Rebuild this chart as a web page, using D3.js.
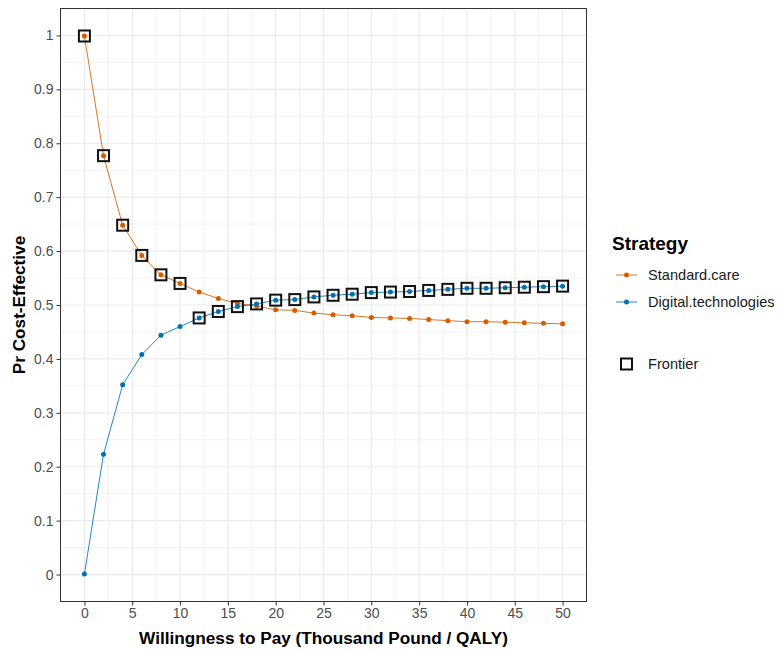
<!DOCTYPE html>
<html>
<head>
<meta charset="utf-8">
<script src="https://cdn.jsdelivr.net/npm/d3@7/dist/d3.min.js"></script>
<style>
  html, body { margin: 0; padding: 0; background: #fff; }
  svg { display: block; font-family: "Liberation Sans", Arial, sans-serif; }
</style>
</head>
<body>
<svg id="chart" width="777" height="650"></svg>
<script>
// Willingness-to-pay thresholds (thousand pounds per QALY)
const wtp = [0, 2, 4, 6, 8, 10, 12, 14, 16, 18, 20, 22, 24, 26, 28, 30, 32, 34, 36, 38, 40, 42, 44, 46, 48, 50];

// Probability each strategy is cost-effective
const standardCare = [0.999, 0.777, 0.648, 0.592, 0.556, 0.540, 0.524, 0.512, 0.503, 0.498, 0.491, 0.490, 0.485, 0.482, 0.480, 0.477, 0.476, 0.475, 0.473, 0.471, 0.469, 0.469, 0.468, 0.467, 0.466, 0.465];
const digitalTech  = [0.001, 0.223, 0.352, 0.408, 0.444, 0.460, 0.476, 0.488, 0.497, 0.502, 0.509, 0.510, 0.515, 0.518, 0.520, 0.523, 0.524, 0.525, 0.527, 0.529, 0.531, 0.531, 0.532, 0.533, 0.534, 0.535];

// Strategy on the cost-effectiveness acceptability frontier at each threshold
const frontier = ["Standard.care", "Standard.care", "Standard.care", "Standard.care", "Standard.care", "Standard.care",
  "Digital.technologies", "Digital.technologies", "Digital.technologies", "Digital.technologies", "Digital.technologies",
  "Digital.technologies", "Digital.technologies", "Digital.technologies", "Digital.technologies", "Digital.technologies",
  "Digital.technologies", "Digital.technologies", "Digital.technologies", "Digital.technologies", "Digital.technologies",
  "Digital.technologies", "Digital.technologies", "Digital.technologies", "Digital.technologies", "Digital.technologies"];

const strategyNames = ["Standard.care", "Digital.technologies"];
const strategyColors = ["#D55E00", "#0072B2"];

const xTicks = [0, 5, 10, 15, 20, 25, 30, 35, 40, 45, 50];
const yTicks = [0, 0.1, 0.2, 0.3, 0.4, 0.5, 0.6, 0.7, 0.8, 0.9, 1];

const series = [
  { name: strategyNames[0], color: strategyColors[0], values: standardCare },
  { name: strategyNames[1], color: strategyColors[1], values: digitalTech }
];

const svg = d3.select("#chart");
const panel = { left: 60.5, right: 586.5, top: 8.5, bottom: 601.5 };

const x = d3.scaleLinear().domain([-2.5, 52.5]).range([panel.left, panel.right]);
const y = d3.scaleLinear().domain([-0.05, 1.05]).range([panel.bottom, panel.top]);

// Grid: minor then major
const xMinor = d3.range(-2.5, 52.6, 5);
const yMinor = d3.range(-0.05, 1.06, 0.1).map(v => +v.toFixed(2));
const grid = svg.append("g");
grid.selectAll(".xm").data(xMinor).join("line")
  .attr("x1", d => x(d)).attr("x2", d => x(d)).attr("y1", panel.top).attr("y2", panel.bottom)
  .attr("stroke", "#F2F2F2").attr("stroke-width", 1);
grid.selectAll(".ym").data(yMinor).join("line")
  .attr("y1", d => y(d)).attr("y2", d => y(d)).attr("x1", panel.left).attr("x2", panel.right)
  .attr("stroke", "#F2F2F2").attr("stroke-width", 1);
grid.selectAll(".xM").data(xTicks).join("line")
  .attr("x1", d => x(d)).attr("x2", d => x(d)).attr("y1", panel.top).attr("y2", panel.bottom)
  .attr("stroke", "#EBEBEB").attr("stroke-width", 1.2);
grid.selectAll(".yM").data(yTicks).join("line")
  .attr("y1", d => y(d)).attr("y2", d => y(d)).attr("x1", panel.left).attr("x2", panel.right)
  .attr("stroke", "#EBEBEB").attr("stroke-width", 1.2);

// Lines and points per strategy
const line = d3.line().x((d, i) => x(wtp[i])).y(d => y(d));
series.forEach(s => {
  svg.append("path").datum(s.values)
    .attr("d", line).attr("fill", "none")
    .attr("stroke", s.color).attr("stroke-width", 1).attr("stroke-opacity", 0.85);
  svg.append("g").selectAll("circle").data(s.values).join("circle")
    .attr("cx", (d, i) => x(wtp[i])).attr("cy", d => y(d)).attr("r", 2.5)
    .attr("fill", s.color);
});

// Frontier squares
const frontierPts = wtp.map((w, i) => {
  const idx = strategyNames.indexOf(frontier[i]);
  return { w, v: series[idx].values[i] };
});
svg.append("g").selectAll("rect").data(frontierPts).join("rect")
  .attr("x", d => x(d.w) - 5.5).attr("y", d => y(d.v) - 5.5)
  .attr("width", 11).attr("height", 11)
  .attr("fill", "none").attr("stroke", "#111").attr("stroke-width", 2);

// Panel border
svg.append("rect")
  .attr("x", panel.left).attr("y", panel.top)
  .attr("width", panel.right - panel.left).attr("height", panel.bottom - panel.top)
  .attr("fill", "none").attr("stroke", "#333").attr("stroke-width", 1);

// Axes
const xAxis = svg.append("g").attr("transform", `translate(0,${panel.bottom})`)
  .call(d3.axisBottom(x).tickValues(xTicks).tickSize(4).tickPadding(3).tickFormat(d3.format("d")));
const yAxis = svg.append("g").attr("transform", `translate(${panel.left},0)`)
  .call(d3.axisLeft(y).tickValues(yTicks).tickSize(4).tickPadding(3).tickFormat(d => d3.format("")(+d.toFixed(1))));
[xAxis, yAxis].forEach(a => {
  a.select(".domain").remove();
  a.selectAll(".tick line").attr("stroke", "#333");
  a.selectAll(".tick text").attr("fill", "#4D4D4D").style("font-size", "14px")
    .style("font-family", "'Liberation Sans', Arial, sans-serif");
});

// Axis titles
svg.append("text")
  .attr("x", (panel.left + panel.right) / 2).attr("y", 644)
  .attr("text-anchor", "middle").attr("font-weight", "bold").attr("font-size", 17.2)
  .attr("fill", "#000").text("Willingness to Pay (Thousand Pound / QALY)");
svg.append("text")
  .attr("transform", `translate(25,${(panel.top + panel.bottom) / 2}) rotate(-90)`)
  .attr("text-anchor", "middle").attr("font-weight", "bold").attr("font-size", 17.2)
  .attr("fill", "#000").text("Pr Cost-Effective");

// Legend
const lg = svg.append("g");
lg.append("text").attr("x", 612).attr("y", 250)
  .attr("font-weight", "bold").attr("font-size", 19).attr("fill", "#000").text("Strategy");
series.forEach((s, i) => {
  const cy = 275 + i * 27;
  lg.append("line").attr("x1", 616).attr("x2", 637).attr("y1", cy).attr("y2", cy)
    .attr("stroke", s.color).attr("stroke-width", 1).attr("stroke-opacity", 0.85);
  lg.append("circle").attr("cx", 626.5).attr("cy", cy).attr("r", 2.5).attr("fill", s.color);
  lg.append("text").attr("x", 648).attr("y", cy).attr("dy", "0.35em")
    .attr("font-size", 14.6).attr("fill", "#1a1a1a").text(s.name);
});
lg.append("rect").attr("x", 621).attr("y", 358.5).attr("width", 11).attr("height", 11)
  .attr("fill", "none").attr("stroke", "#111").attr("stroke-width", 2);
lg.append("text").attr("x", 648).attr("y", 364).attr("dy", "0.35em")
  .attr("font-size", 14.6).attr("fill", "#1a1a1a").text("Frontier");
</script>
</body>
</html>
